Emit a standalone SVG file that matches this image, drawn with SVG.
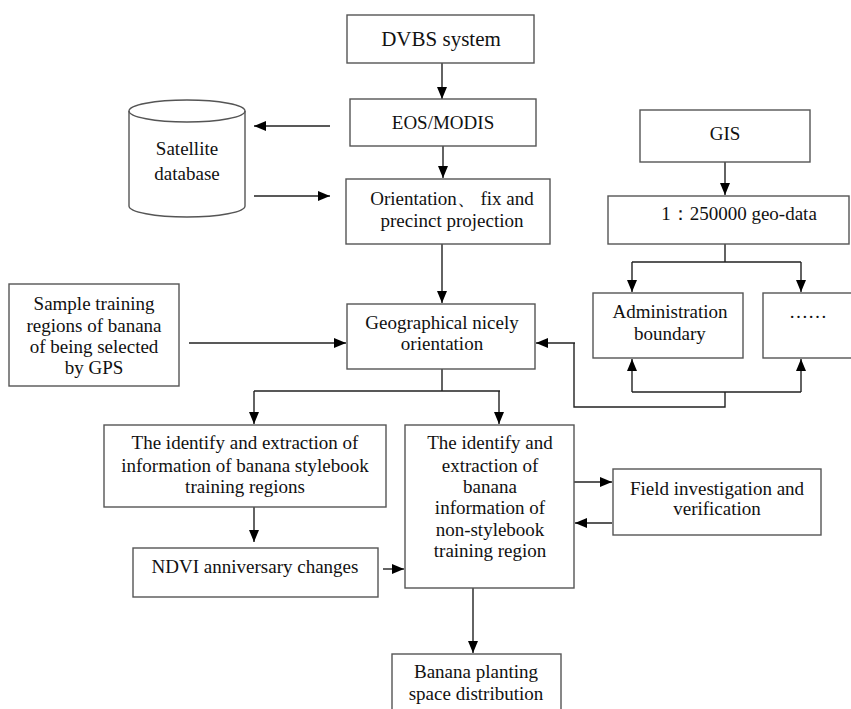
<svg xmlns="http://www.w3.org/2000/svg" width="851" height="709" viewBox="0 0 851 709">
<defs>
<style>
.box{fill:#fff;stroke:#555;stroke-width:1.4}
.t{font-family:"Liberation Serif","DejaVu Serif","Times New Roman",serif;font-size:19px;fill:#111;text-anchor:middle}
.c{fill:none;stroke:#222;stroke-width:1.4}
</style>
<marker id="ah" viewBox="0 0 12 10" refX="12" refY="5" markerWidth="12" markerHeight="10" markerUnits="userSpaceOnUse" orient="auto">
<path d="M0,0 L12,5 L0,10 Z" fill="#000"/>
</marker>
</defs>
<rect width="851" height="709" fill="#fff"/>
<g id="connectors">
<path class="c" d="M442,63 V99" marker-end="url(#ah)"/>
<path class="c" d="M330,126 H254" marker-end="url(#ah)"/>
<path class="c" d="M254,196 H330" marker-end="url(#ah)"/>
<path class="c" d="M443,146 V178" marker-end="url(#ah)"/>
<path class="c" d="M442,244 V303" marker-end="url(#ah)"/>
<path class="c" d="M189,343 H346" marker-end="url(#ah)"/>
<path class="c" d="M725,162 V195" marker-end="url(#ah)"/>
<path class="c" d="M725,244 V262 M632,262 H801"/>
<path class="c" d="M632,262 V292" marker-end="url(#ah)"/>
<path class="c" d="M801,262 V292" marker-end="url(#ah)"/>
<path class="c" d="M632,392 H801 M725,392 V407 H574 V343"/>
<path class="c" d="M632,392 V359" marker-end="url(#ah)"/>
<path class="c" d="M801,392 V359" marker-end="url(#ah)"/>
<path class="c" d="M575,343 H536" marker-end="url(#ah)"/>
<path class="c" d="M442,369 V391 M254,391 H500"/>
<path class="c" d="M254,391 V424" marker-end="url(#ah)"/>
<path class="c" d="M499,391 V424" marker-end="url(#ah)"/>
<path class="c" d="M254,507 V542" marker-end="url(#ah)"/>
<path class="c" d="M383,569 H404" marker-end="url(#ah)"/>
<path class="c" d="M574,482 H612" marker-end="url(#ah)"/>
<path class="c" d="M612,523 H575" marker-end="url(#ah)"/>
<path class="c" d="M473,588 V653" marker-end="url(#ah)"/>
</g>
<g id="dvbs"><rect class="box" x="347" y="15" width="187" height="48"/><text class="t" x="441" y="46" style="font-size:21px">DVBS system</text></g>
<g id="eos"><rect class="box" x="350" y="99" width="186" height="47"/><text class="t" x="443" y="129">EOS/MODIS</text></g>
<g id="satellite">
<path class="box" d="M129,111 V206 A58,11 0 0 0 245,206 V111 A58,11 0 0 0 129,111 Z"/>
<path class="c" style="stroke:#555" d="M129,111 A58,11 0 0 0 245,111"/>
<text class="t" x="187" y="155">Satellite</text><text class="t" x="187" y="180">database</text>
</g>
<g id="orientation"><rect class="box" x="346" y="179" width="204" height="65"/><text class="t" x="452" y="205">Orientation、 fix and</text><text class="t" x="452" y="227">precinct projection</text></g>
<g id="gis"><rect class="box" x="640" y="110" width="170" height="52"/><text class="t" x="725" y="140">GIS</text></g>
<g id="geodata"><rect class="box" x="608" y="196" width="241" height="48"/><text class="t" x="739" y="220">1：250000 geo-data</text></g>
<g id="admin"><rect class="box" x="593" y="293" width="150" height="65"/><text class="t" x="670" y="318">Administration</text><text class="t" x="670" y="340">boundary</text></g>
<g id="more"><rect class="box" x="763" y="293" width="95" height="65"/><text class="t" x="808" y="318">……</text></g>
<g id="sample"><rect class="box" x="9" y="284" width="170" height="102"/><text class="t" x="94" y="310">Sample training</text><text class="t" x="94" y="332">regions of banana</text><text class="t" x="94" y="353">of being selected</text><text class="t" x="94" y="374">by GPS</text></g>
<g id="geographical"><rect class="box" x="347" y="304" width="188" height="65"/><text class="t" x="442" y="329">Geographical nicely</text><text class="t" x="442" y="350">orientation</text></g>
<g id="stylebook"><rect class="box" x="104" y="425" width="282" height="82"/><text class="t" x="245" y="449">The identify and extraction of</text><text class="t" x="245" y="472">information of banana stylebook</text><text class="t" x="245" y="493">training regions</text></g>
<g id="ndvi"><rect class="box" x="133" y="548" width="245" height="49"/><text class="t" x="255" y="573">NDVI anniversary changes</text></g>
<g id="nonstylebook"><rect class="box" x="405" y="425" width="169" height="163"/><text class="t" x="490" y="449">The identify and</text><text class="t" x="490" y="472">extraction of</text><text class="t" x="490" y="493">banana</text><text class="t" x="490" y="514">information of</text><text class="t" x="490" y="536">non-stylebook</text><text class="t" x="490" y="557">training region</text></g>
<g id="field"><rect class="box" x="613" y="469" width="208" height="66"/><text class="t" x="717" y="495">Field investigation and</text><text class="t" x="717" y="515">verification</text></g>
<g id="banana"><rect class="box" x="392" y="654" width="169" height="70"/><text class="t" x="476" y="678">Banana planting</text><text class="t" x="476" y="700">space distribution</text></g>
</svg>
